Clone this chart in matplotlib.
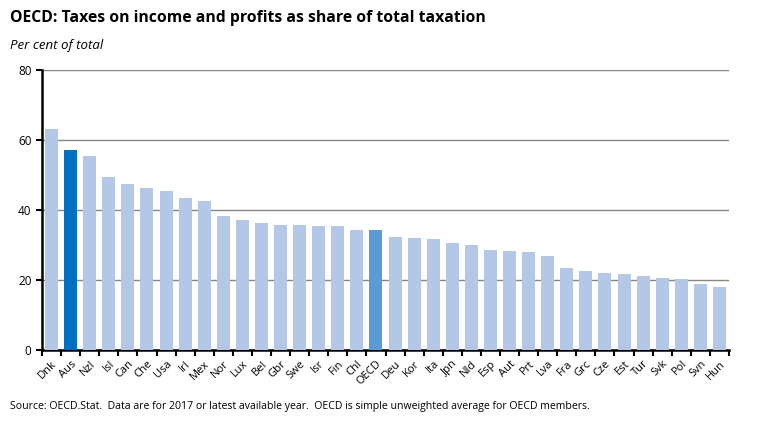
import numpy as np
import matplotlib.pyplot as plt

countries = ['Dnk', 'Aus', 'Nzl', 'Isl', 'Can', 'Che', 'Usa', 'Irl', 'Mex', 'Nor',
             'Lux', 'Bel', 'Gbr', 'Swe', 'Isr', 'Fin', 'Chl', 'OECD', 'Deu', 'Kor',
             'Ita', 'Jpn', 'Nld', 'Esp', 'Aut', 'Prt', 'Lva', 'Fra', 'Grc', 'Cze',
             'Est', 'Tur', 'Svk', 'Pol', 'Svn', 'Hun']
share = [63.1, 57.1, 55.4, 49.4, 47.4, 46.3, 45.4, 43.4, 42.6, 38.3,
         37.1, 36.3, 35.7, 35.7, 35.4, 35.4, 34.3, 34.3, 32.3, 32.0,
         31.7, 30.6, 30.0, 28.6, 28.3, 28.0, 26.9, 23.4, 22.6, 22.0,
         21.7, 21.1, 20.6, 20.3, 18.9, 18.0]

LIGHT = '#B4C7E7'
AUS = '#0070C0'
OECD = '#5B9BD5'

plt.rcParams['font.family'] = ['Open Sans', 'DejaVu Sans']

fig = plt.figure(figsize=(7.68, 4.23), dpi=100)
ax = fig.add_axes([42 / 768, 73 / 423, 687 / 768, 280 / 423])

colors = [AUS if c == 'Aus' else OECD if c == 'OECD' else LIGHT for c in countries]
x = np.arange(len(countries))
ax.bar(x, share, width=0.68, color=colors, zorder=3)

ax.set_xlim(-0.5, len(countries) - 0.5)
ax.set_ylim(0, 80)
ax.set_yticks([0, 20, 40, 60, 80])
ax.yaxis.grid(True, color='#868686', linewidth=1.0, zorder=0)

ax.set_xticks(x)
ax.set_xticklabels(countries, rotation=45, ha='right', rotation_mode='anchor', fontsize=8)
ax.set_xticks(np.arange(-0.5, len(countries)), minor=True)
ax.tick_params(axis='x', which='major', length=0, pad=6)
ax.tick_params(axis='x', which='minor', length=4, width=1.5, direction='out')
ax.tick_params(axis='y', length=4, width=1.5, direction='out', labelsize=8.5)

for side in ['top', 'right']:
    ax.spines[side].set_visible(False)
ax.spines['left'].set_linewidth(1.8)
ax.spines['bottom'].set_linewidth(1.8)

fig.text(10 / 768, 1 - 18 / 423, 'OECD: Taxes on income and profits as share of total taxation',
         fontsize=11.3, fontweight='bold', va='center', ha='left')
fig.text(10 / 768, 1 - 46 / 423, 'Per cent of total', fontsize=9.5, style='italic',
         va='center', ha='left')
fig.text(10 / 768, 1 - 406 / 423,
         'Source: OECD.Stat.  Data are for 2017 or latest available year.  '
         'OECD is simple unweighted average for OECD members.',
         fontsize=7.6, va='center', ha='left')

fig.savefig('out.png', dpi=100)
